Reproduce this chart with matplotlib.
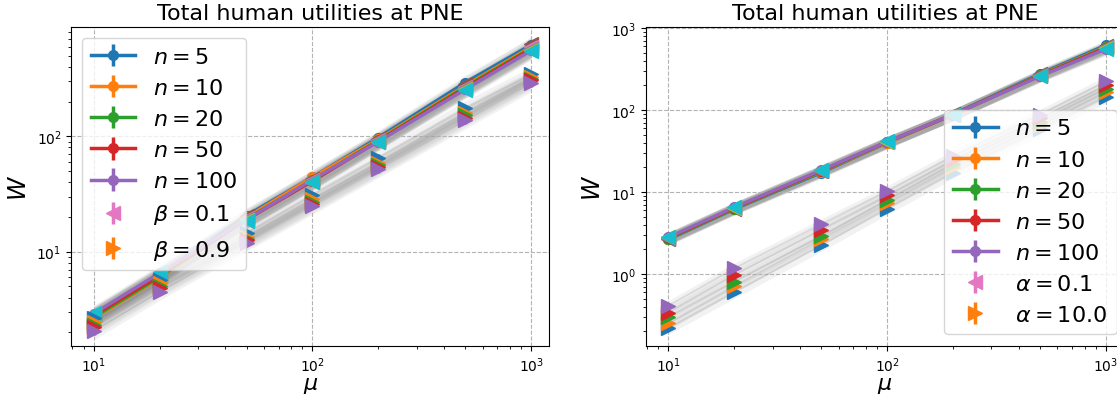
import numpy as np
import matplotlib
matplotlib.use('Agg')
import matplotlib.pyplot as plt

mu = [10, 20, 50, 100, 200, 500, 1000]
n_values = [5, 10, 20, 50, 100]

# left panel: baseline (o), beta = 0.1 (<), beta = 0.9 (>)
left_base = [
    [2.75, 6.1, 20.5, 44, 97, 292, 620],
    [2.65, 5.9, 19.8, 44, 94, 275, 595],
    [2.7, 6.0, 19.2, 41.5, 92, 268, 580],
    [2.8, 6.2, 19.0, 41, 91, 262, 570],
    [2.9, 6.5, 19.0, 42, 90, 256, 555],
]
left_beta01 = [
    [2.85, 6.4, 20.5, 43, 95, 285, 630],
    [2.8, 6.3, 19.5, 42, 93, 270, 590],
    [2.8, 6.2, 19.0, 41, 91, 262, 575],
    [2.85, 6.3, 18.8, 40.5, 90, 258, 565],
    [2.95, 6.6, 18.5, 40, 89, 250, 545],
]
left_beta09 = [
    [2.65, 5.7, 14.5, 31, 65, 175, 345],
    [2.45, 5.3, 13.5, 28.5, 59, 160, 325],
    [2.3, 5.0, 13.0, 27, 56, 152, 315],
    [2.2, 4.8, 12.5, 26, 54, 145, 305],
    [2.05, 4.5, 12.0, 25, 52, 138, 290],
]

# right panel: baseline (o), alpha = 0.1 (<), alpha = 10.0 (>)
right_base = [
    [2.65, 6.2, 17.3, 40, 88, 275, 615],
    [2.7, 6.3, 17.8, 40, 87, 268, 590],
    [2.7, 6.3, 18.0, 40.5, 88, 265, 580],
    [2.75, 6.4, 18.2, 41, 88, 262, 570],
    [2.8, 6.5, 18.5, 41, 88, 258, 555],
]
right_alpha01 = [
    [2.7, 6.3, 18.0, 40.5, 89, 272, 600],
    [2.75, 6.35, 18.2, 40.5, 88, 268, 590],
    [2.75, 6.4, 18.3, 41, 88, 265, 580],
    [2.8, 6.45, 18.5, 41, 88, 262, 565],
    [2.8, 6.5, 18.6, 41.5, 88, 258, 550],
]
right_alpha10 = [
    [0.22, 0.60, 2.25, 6.3, 17.3, 58, 145],
    [0.25, 0.71, 2.67, 7.3, 20, 65, 166],
    [0.30, 0.81, 2.88, 8.0, 22, 72, 182],
    [0.34, 0.97, 3.46, 9.1, 24.5, 79, 200],
    [0.41, 1.17, 4.06, 10.3, 27.5, 88, 224],
]

band = 0.16   # relative spread of the grey bands
rel_err = 0.07  # relative size of the error bars

colors = plt.cm.tab10.colors


def draw_panel(ax, base, grp_a, grp_b, lab_a, lab_b):
    handles = []
    for k, ys in enumerate(base):
        y = np.array(ys)
        ax.fill_between(mu, y * (1 - band), y * (1 + band), color='gray', alpha=0.1, lw=0)
        h = ax.errorbar(mu, y, yerr=y * rel_err, color=colors[k], marker='o', ms=7,
                        lw=2.5, elinewidth=2.5)
        handles.append(h)
    extra = []
    for grp, mk, off, lab in [(grp_a, '<', 5, lab_a), (grp_b, '>', 0, lab_b)]:
        for k, ys in enumerate(grp):
            y = np.array(ys)
            ax.fill_between(mu, y * (1 - band), y * (1 + band), color='gray', alpha=0.1, lw=0)
            ax.plot(mu, y, color='gray', alpha=0.2, lw=1.5)
            h = ax.errorbar(mu, y, yerr=y * rel_err, color=colors[k + off], marker=mk,
                            ms=10, ls='none', elinewidth=2.5)
            if k == 1:
                extra.append((h, lab))
    handles += [e[0] for e in extra]
    labels = [f'$n = {n}$' for n in n_values] + [e[1] for e in extra]
    ax.set_xscale('log')
    ax.set_yscale('log')
    ax.grid(True, which='major', ls='--', color='0.7', lw=0.8)
    ax.set_title('Total human utilities at PNE', fontsize=16)
    ax.set_xlabel(r'$\mu$', fontsize=16, labelpad=1)
    ax.set_ylabel(r'$W$', fontsize=17)
    return handles, labels


fig = plt.figure(figsize=(11.17, 4.02), dpi=100)
ax1 = fig.add_axes([0.0638, 0.1376, 0.4279, 0.792])
ax2 = fig.add_axes([0.5783, 0.1376, 0.4279, 0.792])

h1, l1 = draw_panel(ax1, left_base, left_beta01, left_beta09,
                    r'$\beta = 0.1$', r'$\beta = 0.9$')
ax1.set_xlim(7.9, 1210)
ax1.set_ylim(1.53, 881)
ax1.legend(h1, l1, loc='upper left', fontsize=16, labelspacing=0.5,
           bbox_to_anchor=(82 / 1117, 1 - 39 / 402),
           bbox_transform=fig.transFigure, borderaxespad=0)

h2, l2 = draw_panel(ax2, right_base, right_alpha01, right_alpha10,
                    r'$\alpha = 0.1$', r'$\alpha = 10.0$')
ax2.set_xlim(7.9, 1210)
ax2.set_ylim(0.134, 1020)
ax2.legend(h2, l2, loc='lower right', fontsize=16, labelspacing=0.5,
           bbox_to_anchor=(1116.5 / 1117, 1 - 335 / 402),
           bbox_transform=fig.transFigure, borderaxespad=0)

fig.savefig('out.png', dpi=100)
